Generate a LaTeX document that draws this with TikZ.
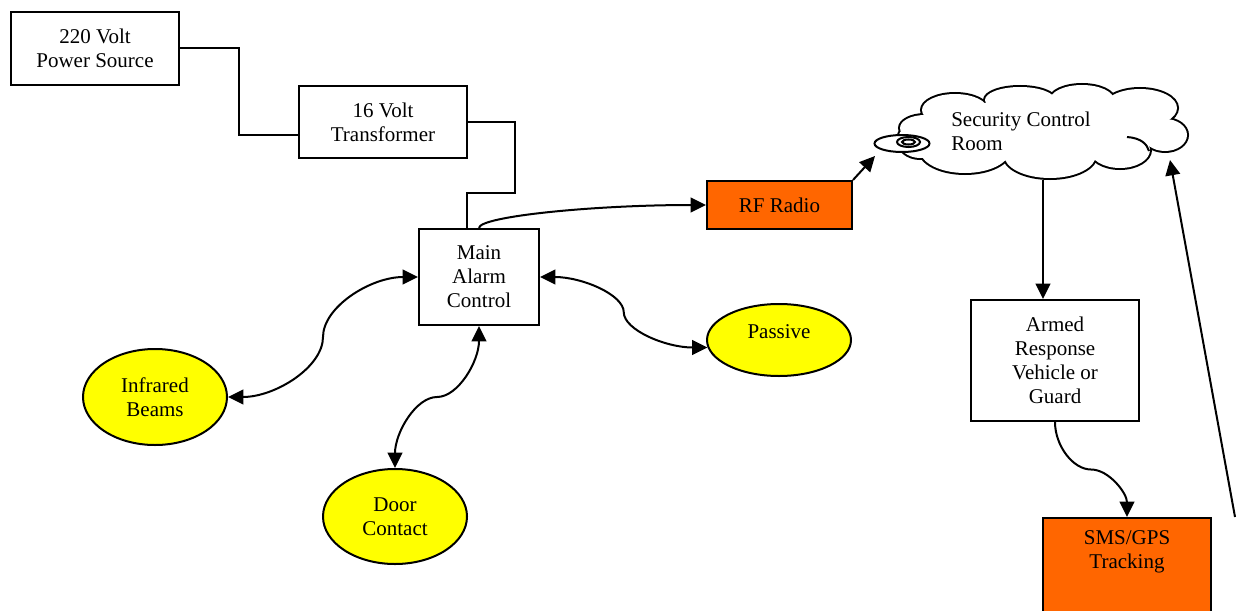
\documentclass[tikz,border=0pt]{standalone}
\usepackage{fontspec}
\setmainfont{Liberation Serif}
\usetikzlibrary{arrows.meta,shapes.geometric,calc}
\definecolor{rforange}{HTML}{FF6600}
\definecolor{sensoryellow}{HTML}{FFFF00}
\begin{document}
\begin{tikzpicture}[x=0.75pt,y=-0.75pt,
  every node/.style={font=\fontsize{15.75pt}{18pt}\selectfont, align=center, inner sep=0pt},
  wire/.style={line width=1.5pt},
  box/.style={draw, line width=1.5pt, rectangle, fill=white},
  obox/.style={box, fill=rforange},
  sensor/.style={draw, line width=1.5pt, ellipse, fill=sensoryellow},
  arr/.style={-{Triangle[length=11.5pt,width=11pt]}},
  darr/.style={{Triangle[length=11.5pt,width=11pt]}-{Triangle[length=11.5pt,width=11pt]}},
  % S-shaped connector leaving and entering horizontally
  hcurve/.style={to path={let \p1=(\tikztostart), \p2=(\tikztotarget) in
    .. controls ({0.75*\x1+0.25*\x2},\y1) and ({0.5*\x1+0.5*\x2},{0.75*\y1+0.25*\y2}) ..
    ({0.5*\x1+0.5*\x2},{0.5*\y1+0.5*\y2})
    .. controls ({0.5*\x1+0.5*\x2},{0.25*\y1+0.75*\y2}) and ({0.25*\x1+0.75*\x2},\y2) ..
    (\tikztotarget)}},
  % S-shaped connector leaving and entering vertically
  vcurve/.style={to path={let \p1=(\tikztostart), \p2=(\tikztotarget) in
    .. controls (\x1,{0.75*\y1+0.25*\y2}) and ({0.75*\x1+0.25*\x2},{0.5*\y1+0.5*\y2}) ..
    ({0.5*\x1+0.5*\x2},{0.5*\y1+0.5*\y2})
    .. controls ({0.25*\x1+0.75*\x2},{0.5*\y1+0.5*\y2}) and (\x2,{0.25*\y1+0.75*\y2}) ..
    (\tikztotarget)}},
  % bent connector leaving vertically, entering horizontally
  vhcurve/.style={to path={let \p1=(\tikztostart), \p2=(\tikztotarget) in
    .. controls (\x1,{0.5*\y1+0.5*\y2}) and ({0.5*\x1+0.5*\x2},\y2) .. (\tikztotarget)}},
]
\clip (0,0) rectangle (1237,610);

% ---- power supply chain
\node[box, minimum width=126pt, minimum height=54.75pt] (src) at (95,48.5) {220 Volt\\Power Source};
\node[box, minimum width=126pt, minimum height=54pt] (xf) at (383,122) {16 Volt\\Transformer};
\node[box, minimum width=90pt, minimum height=72pt] (main) at (479,277) {Main\\Alarm\\Control};

\coordinate (k1) at (239,134.5);
\draw[wire] (src.east) -| (k1) -- (k1 -| xf.west);
\coordinate (k2) at (515,193);
\coordinate (k3) at ($(main.north)+(-12,0)$);
\draw[wire] (xf.east) -| (k2) -| (k3);

% ---- sensors
\node[sensor, minimum width=108pt, minimum height=72pt] (ir) at (155,397) {Infrared\\Beams};
\node[sensor, minimum width=108pt, minimum height=71.25pt] (door) at (395,516.5) {Door\\Contact};
\node[sensor, minimum width=108pt, minimum height=54pt] (pas) at (779,340) {};
\node (past) at (779,332) {Passive};

\draw[wire, darr] (main.west) to[hcurve] (ir.east);
\draw[wire, darr] (main.south) to[vcurve] (door.north);
\draw[wire, darr] (main.east) to[hcurve] (pas.186);

% ---- radio link
\node[obox, minimum width=108.75pt, minimum height=36pt] (rf) at (779.5,205) {RF Radio};
\draw[wire, arr] (main.north) to[vhcurve] (rf.west);

% ---- control room cloud
\begin{scope}
  \foreach \cx/\cy/\rx/\ry in {955/110/33/16, 1020/100/35/13, 1082/100/32/15, 1140/108/37/19,
      1165/135/22/16, 1120/150/30/18, 1050/155/46/23, 965/150/45/23, 920/140/22/18,
      925/128/25/13, 1040/130/125/30}
    \draw[line width=3pt] (\cx,\cy) ellipse [x radius=\rx, y radius=\ry];
  \foreach \cx/\cy/\rx/\ry in {955/110/33/16, 1020/100/35/13, 1082/100/32/15, 1140/108/37/19,
      1165/135/22/16, 1120/150/30/18, 1050/155/46/23, 965/150/45/23, 920/140/22/18,
      925/128/25/13, 1040/130/125/30}
    \fill[white] (\cx,\cy) ellipse [x radius=\rx, y radius=\ry];
\end{scope}
\draw[wire] (1127,137) .. controls (1141,138) and (1147,144) .. (1149,151);
\draw[wire, fill=white] (902,143.5) ellipse [x radius=27.5, y radius=8.5];
\draw[wire] (908.5,142) ellipse [x radius=11.5, y radius=5];
\draw[wire] (908.5,142) ellipse [x radius=6.5, y radius=2.5];
\node[anchor=west, align=left] (room) at (951,131.5) {Security Control\\Room};

\coordinate (cl1) at (875,156);
\draw[wire, arr] (rf.north east) -- (cl1);

% ---- response
\node[box, minimum width=126pt, minimum height=90.75pt] (arv) at (1055,360.5) {Armed\\Response\\Vehicle or\\Guard};
\coordinate (cl2) at (1043,180);
\draw[wire, arr] (cl2) -- (cl2 |- arv.north);

\node[obox, minimum width=126pt, minimum height=75pt, anchor=north] (sms) at (1127,517) {};
\node (smst) at (1127,551.5) {SMS/GPS\\Tracking};
\draw[wire, arr] (arv.south) to[vcurve] (sms.north);

\coordinate (fe) at (1235,517);
\coordinate (cl3) at (1170,160);
\draw[wire, arr] (fe) -- (cl3);
\end{tikzpicture}
\end{document}
